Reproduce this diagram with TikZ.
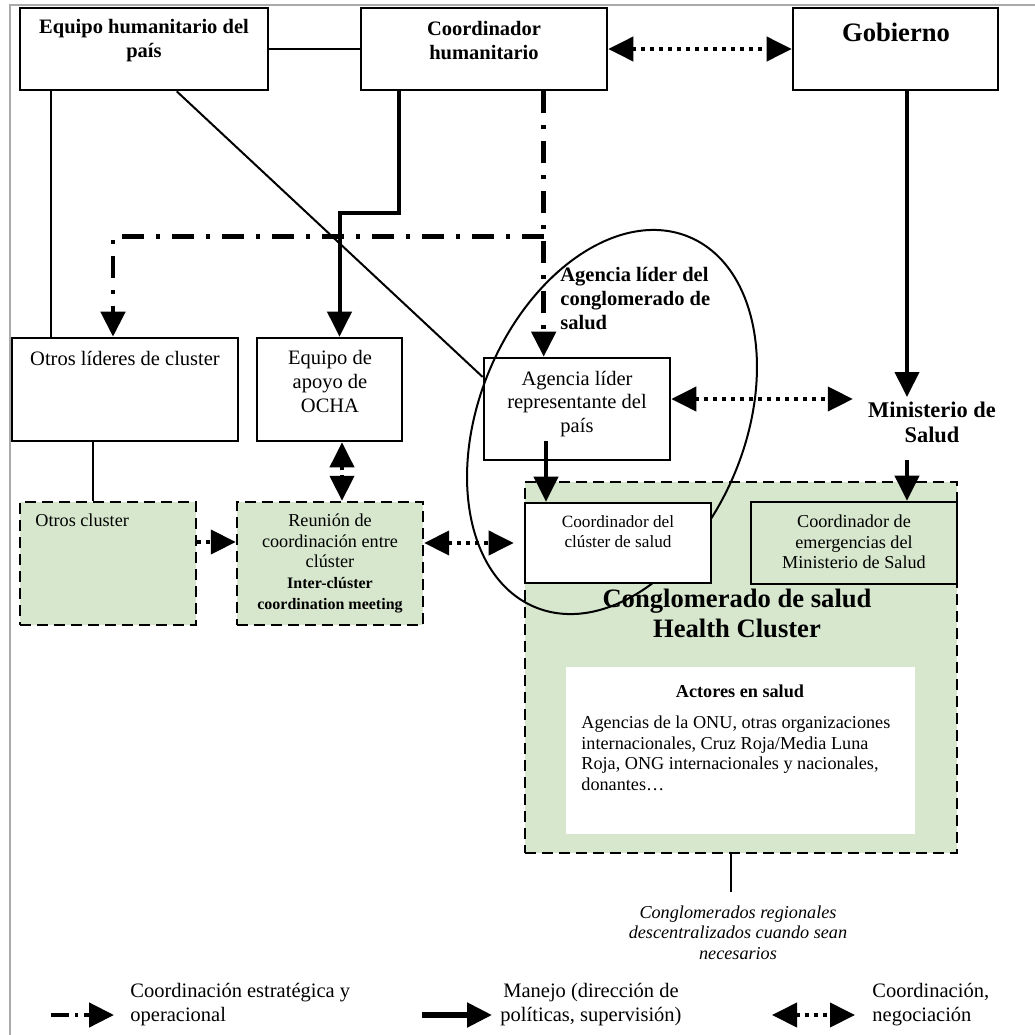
\documentclass[tikz,border=0pt]{standalone}
\usepackage{fontspec}
\setmainfont{Liberation Serif}
\usetikzlibrary{arrows.meta,fit}
\definecolor{hcgreen}{RGB}{214,231,205}
\definecolor{framegray}{RGB}{170,170,170}
\newcommand\fzMain{\fontsize{10.25}{11.8}\selectfont}
\newcommand\fzSmall{\fontsize{9.1}{10.3}\selectfont}
\newcommand\fzCC{\fontsize{8.6}{10}\selectfont}
\newcommand\fzTiny{\fontsize{8}{10.3}\selectfont}
\newcommand\fzBig{\fontsize{13.3}{15}\selectfont}
\newcommand\fzMin{\fontsize{11.2}{12.5}\selectfont}
\newcommand\fzLeg{\fontsize{10.25}{12}\selectfont}
\begin{document}
\begin{tikzpicture}[x=0.5pt,y=-0.5pt,
  >={Triangle[length=12.5pt,width=12pt]},
  box/.style={draw, line width=1.3pt, fill=white, inner sep=0pt},
  gbox/.style={draw, line width=1.3pt, fill=hcgreen, inner sep=0pt},
  dbox/.style={draw, line width=1.2pt, dash pattern=on 5.5pt off 3pt, fill=hcgreen, inner sep=0pt},
  wbox/.style={fill=white, inner sep=0pt},
  txt/.style={inner sep=0pt, align=center},
  plain/.style={line width=1pt},
  mgmt/.style={line width=2pt, ->},
  strat/.style={line width=2.3pt, dash pattern=on 11pt off 6pt on 2pt off 6pt, ->},
  nego/.style={line width=2pt, dash pattern=on 2pt off 2.5pt, <->},
  negoR/.style={line width=2pt, dash pattern=on 2pt off 2.5pt, ->},
]
\fill[white] (0,0) rectangle (1035,1035);
\useasboundingbox (0,0) rectangle (1035,1035);
\draw[framegray, line width=1pt] (10,1035) -- (10,5) -- (1035,5);

% boxes
\node[box, fit={(20,8) (268,90)}] (eq) {};
\node[box, fit={(361,8) (607,90)}] (ch) {};
\node[box, fit={(793,8) (998,90)}] (gob) {};
\node[box, fit={(12,338) (238,441)}] (otl) {};
\node[box, fit={(257,338) (402,441)}] (ocha) {};
\node[dbox, fit={(20,502) (196,625)}] (ocl) {};
\node[dbox, fit={(237,502) (423,625)}] (reu) {};
\node[dbox, fit={(525,482) (957,853)}] (hc) {};
\node[wbox, fit={(566,667) (915,834)}] (act) {};
\node[box, fit={(484,358) (670,460)}] (ag) {};
\draw[plain, rotate around={67.4:(612,422)}] (612,422) ellipse [x radius=100.25pt, y radius=66.5pt];
\node[box, fit={(525,503) (711,583)}] (cc) {};
\node[gbox, fit={(751,502) (957,584)}] (em) {};

% texts
\node[txt, font=\fzMain\bfseries] (eqT) at (144,40.5) {Equipo humanitario del\\país};
\node[txt, font=\fzMain\bfseries] (chT) at (484,40.5) {Coordinador\\humanitario};
\node[txt, font=\fzBig\bfseries] (gobT) at (896,32) {Gobierno};
\node[txt, font=\fzMain] (otlT) at (125,358) {Otros líderes de cluster};
\node[txt, font=\fzMain] (ochaT) at (330,381.5) {Equipo de\\apoyo de\\OCHA};
\node[txt, font=\fzMain] (agT) at (577,404) {Agencia líder\\representante del\\país};
\node[txt, font=\fzMain\bfseries, align=left, anchor=west] (agl) at (560,298.5) {Agencia líder del\\conglomerado de\\salud};
\node[txt, font=\fzMin\bfseries] (mins) at (932,422.5) {Ministerio de\\Salud};
\node[txt, font=\fzSmall, anchor=west] (oclT) at (35,520) {Otros cluster};
\node[txt, font=\fzSmall] (reuT) at (330,541) {Reunión de\\coordinación entre\\clúster};
\node[txt, font=\fzTiny\bfseries] (reuE) at (330,595) {Inter-clúster\\coordination meeting};
\node[txt, font=\fzCC] (ccT) at (618,532) {Coordinador del\\clúster de salud};
\node[txt, font=\fzSmall] (emT) at (854,542) {Coordinador de\\emergencias del\\Ministerio de Salud};
\node[txt, font=\fzBig\bfseries] (hcT) at (737,613) {Conglomerado de salud\\Health Cluster};
\node[txt, font=\fzSmall\bfseries] (actT) at (740,691) {Actores en salud};
\node[txt, font=\fzSmall, align=left, anchor=west] (actB) at (581,753.5) {Agencias de la ONU, otras organizaciones\\internacionales, Cruz Roja/Media Luna\\Roja, ONG internacionales y nacionales,\\donantes…};
\node[txt, font=\fzSmall\itshape] (reg) at (738,932.5) {Conglomerados regionales\\descentralizados cuando sean\\necesarios};

% connector anchors
\coordinate (eqA) at ([xshift=16pt]eq.south west);
\coordinate (eqB) at ([xshift=79pt]eq.south west);
\coordinate (agL) at ([yshift=16pt]ag.west);
\coordinate (chM) at ([xshift=19.5pt]ch.south west);
\coordinate (ochaIn) at ([xshift=5pt]ocha.north);
\coordinate (chD) at ([xshift=92pt]ch.south west);
\coordinate (chDb) at ([yshift=-72.5pt]chD);
\coordinate (otlIn) at ([xshift=-6pt]otl.north);
\coordinate (gobS) at ([xshift=5.75pt]gob.south);
\coordinate (minsIn) at (907,397);
\coordinate (minsOut) at (907,460);
\coordinate (agOut) at ([xshift=-15.5pt,yshift=10pt]ag.south);
\coordinate (agR) at ([yshift=5pt]ag.east);
\coordinate (ochaB) at ([xshift=6.25pt]ocha.south);
\coordinate (oclR) at ([yshift=10.75pt]ocl.east);
\coordinate (reuR) at ([yshift=10.25pt]reu.east);
\coordinate (otlB) at ([xshift=-16pt]otl.south);
\coordinate (hcB) at ([xshift=-5pt]hc.south);

% connectors
\draw[plain] (eq.east) -- (ch.west);
\draw[nego] (ch.east) -- (gob.west);
\draw[plain] (eqA) -- (eqA |- otl.north);
\draw[plain] (eqB) -- (agL);
\draw[mgmt] (chM) -- ++(0,122) -| (ochaIn);
\draw[strat] (chD) -- (chD |- ag.north);
\draw[strat] (chDb) -| (otlIn);
\draw[mgmt] (gobS) -- (minsIn);
\draw[mgmt] (minsOut) -- (minsOut |- em.north);
\draw[mgmt] (agOut) -- (agOut |- cc.north);
\draw[nego, shorten >=7.5pt] (agR) -- (agR -| mins.west);
\draw[nego] (ochaB) -- (ochaB |- reu.north);
\draw[negoR] (oclR) -- (oclR -| reu.west);
\draw[nego, shorten >=5pt] (reuR) -- (reuR -| cc.west);
\draw[plain] (otlB) -- (otlB |- ocl.north);
\draw[plain, shorten >=6.5pt] (hcB) -- (hcB |- reg.north);

% legend
\coordinate (l1a) at (51,1015);
\coordinate (l1b) at (114,1015);
\coordinate (l2a) at (422,1015);
\coordinate (l2b) at (492,1015);
\coordinate (l3a) at (772,1015);
\coordinate (l3b) at (855,1015);
\draw[line width=2.3pt, dash pattern=on 9pt off 3pt on 1.5pt off 3pt, ->] (l1a) -- (l1b);
\draw[line width=2.6pt, ->] (l2a) -- (l2b);
\draw[nego] (l3a) -- (l3b);
\node[txt, font=\fzLeg, align=left, anchor=west] (leg1) at (130,1005) {Coordinación estratégica y\\operacional};
\node[txt, font=\fzLeg] (leg2) at (591,1005) {Manejo (dirección de\\políticas, supervisión)};
\node[txt, font=\fzLeg, align=left, anchor=west] (leg3) at (872,1005) {Coordinación,\\negociación};
\end{tikzpicture}
\end{document}
